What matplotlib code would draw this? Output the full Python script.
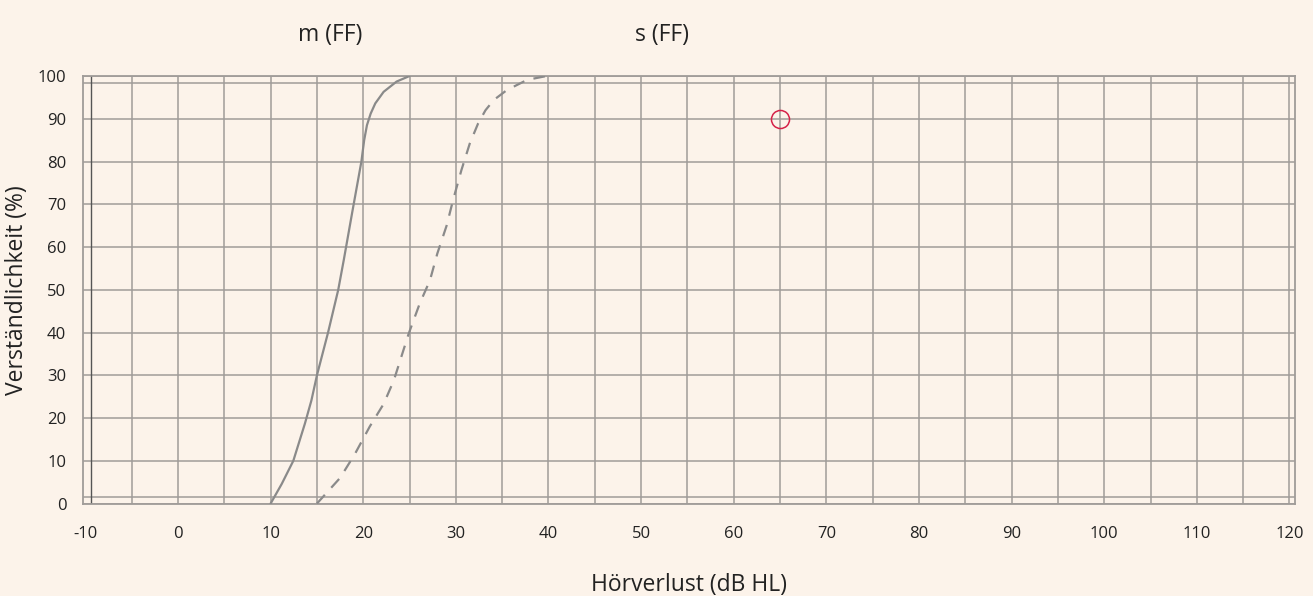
import matplotlib.pyplot as plt
import numpy as np

plt.rcParams["font.family"] = ["Open Sans", "DejaVu Sans"]
plt.rcParams["axes.unicode_minus"] = False

# solid curve "m (FF)"
m_x = [10, 11.2, 12.45, 13.7, 14.4, 15.0, 16.2, 17.3, 17.9, 18.8, 19.8, 20.1, 20.4, 20.8, 21.3, 22.2, 23.6, 25.0]
m_y = [0, 4.6, 10, 18.7, 24.1, 30, 40, 50, 57, 68, 80, 85, 88.5, 91.2, 93.6, 96.3, 98.7, 100]
# dashed curve "s (FF)"
s_x = [15, 17.5, 19.1, 20.7, 22.2, 23.3, 24.9, 26.1, 27.2, 28.0, 29.0, 29.7, 30.6, 31.5, 32.4, 33.2, 34.1, 35.5, 37.7, 39.8]
s_y = [0, 6, 11.6, 18, 23.3, 28.8, 39.7, 46.8, 52.2, 58.5, 65, 71, 78, 84.2, 88.9, 92, 94.4, 96.7, 99.1, 100]
# measured point
pt_x = [65]
pt_y = [90]

x_ticks = list(range(-10, 121, 10))
y_ticks = list(range(0, 101, 10))

bg = "#fcf3ea"
grid_col = "#a09c99"
txt = "#222222"

fig = plt.figure(figsize=(13.13, 5.96), dpi=100, facecolor=bg)
ax = fig.add_axes([0.0632, 0.1544, 0.9231, 0.7188], facecolor=bg)

for v in np.arange(-5, 121, 5):
    ax.axvline(v, color=grid_col, lw=1.1, zorder=1)
for v in y_ticks:
    ax.axhline(v, color=grid_col, lw=1.1, zorder=1)
ax.axhline(1.6, color=grid_col, lw=1.1, zorder=1)
ax.axhline(98.4, color=grid_col, lw=1.1, zorder=1)
ax.axvline(-9.43, color="#555555", lw=1.0, zorder=1)

ax.plot(m_x, m_y, color="#8a8a8a", lw=1.6, zorder=3, solid_capstyle="round", solid_joinstyle="round")
ax.plot(s_x, s_y, color="#8a8a8a", lw=1.6, zorder=3, linestyle=(0, (5.3, 4.3)))
ax.plot(pt_x, pt_y, linestyle="none", marker="o", markersize=13, markerfacecolor="none",
        markeredgecolor="#d52148", markeredgewidth=1.1, zorder=4)

ax.set_xlim(-10.26, 120.6)
ax.set_ylim(-0.1, 100.1)
ax.set_xticks(x_ticks)
ax.set_yticks(y_ticks)
ax.tick_params(length=0, labelsize=12, colors=txt)
ax.tick_params(axis="x", pad=16)
ax.tick_params(axis="y", pad=12)
for s in ax.spines.values():
    s.set_color(grid_col)
    s.set_linewidth(1.3)

ax.set_xlabel("Hörverlust (dB HL)", fontsize=16.5, labelpad=22, color=txt)
ax.set_ylabel("Verständlichkeit (%)", fontsize=16.5, labelpad=6, color=txt)

fig.text(330 / 1313, 1 - 35 / 596, "m (FF)", fontsize=16.5, ha="center", va="center", color=txt)
fig.text(662 / 1313, 1 - 35 / 596, "s (FF)", fontsize=16.5, ha="center", va="center", color=txt)

fig.savefig("out.png", dpi=100, facecolor=bg)
